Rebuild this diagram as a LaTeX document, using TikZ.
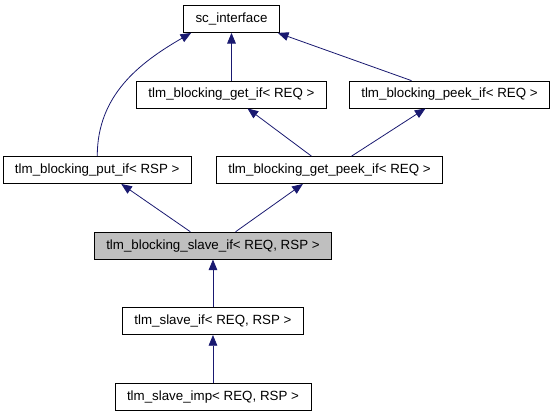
\documentclass[tikz,border=0pt]{standalone}
\usepackage{fontspec}
\setmainfont{Liberation Sans}
\usepackage{tikz}
\usetikzlibrary{arrows.meta, positioning}
\definecolor{edgeblue}{RGB}{25,25,112}
\definecolor{focusgray}{RGB}{191,191,191}
\tikzset{
  classbox/.style={
    rectangle, draw=black, fill=white, line width=0.6pt,
    minimum height=20.25pt, inner xsep=9pt,
    font=\fontsize{10}{12}\selectfont
  },
  focusbox/.style={classbox, fill=focusgray},
  inherit/.style={-{Triangle[length=8pt, width=6.5pt]}, color=edgeblue, line width=0.6pt},
}

\begin{document}
\begin{tikzpicture}[x=0.75pt, y=-0.75pt, node distance=35.8pt and 16.5pt]
  \useasboundingbox (0,0) rectangle (555,411);
  \node[classbox] (sc) at (231.5,19) {sc\_interface};
  \node[classbox, below=of sc] (getif) {tlm\_blocking\_get\_if< REQ >};
  \node[classbox, right=of getif] (peekif) {tlm\_blocking\_peek\_if< REQ >};
  \node[classbox, below=of getif, xshift=73.5pt] (getpeekif) {tlm\_blocking\_get\_peek\_if< REQ >};
  \node[classbox, left=18pt of getpeekif] (putif) {tlm\_blocking\_put\_if< RSP >};
  \node[focusbox, below=of getpeekif, xshift=-87.4pt] (slaveblk) {tlm\_blocking\_slave\_if< REQ, RSP >};
  \node[classbox, below=of slaveblk] (slaveif) {tlm\_slave\_if< REQ, RSP >};
  \node[classbox, below=of slaveif] (slaveimp) {tlm\_slave\_imp< REQ, RSP >};

  \draw[inherit] (putif.north) to[out=90, in=-150] ([xshift=6pt]sc.south west);
  \draw[inherit] (getif.north) -- (getif.north |- sc.south);
  \draw[inherit] ([xshift=-28.5pt]peekif.north) -- ([xshift=-1.5pt]sc.south east);
  \draw[inherit] ([xshift=-13.5pt]getpeekif.north) -- ([xshift=12pt]getif.south);
  \draw[inherit] ([xshift=16.5pt]getpeekif.north) -- ([xshift=-18pt]peekif.south);
  \draw[inherit] ([xshift=-17pt]slaveblk.north) -- ([xshift=18pt]putif.south);
  \draw[inherit] ([xshift=17pt]slaveblk.north) -- ([xshift=-20pt]getpeekif.south);
  \draw[inherit] (slaveif) -- (slaveblk);
  \draw[inherit] (slaveimp) -- (slaveif);
\end{tikzpicture}
\end{document}
